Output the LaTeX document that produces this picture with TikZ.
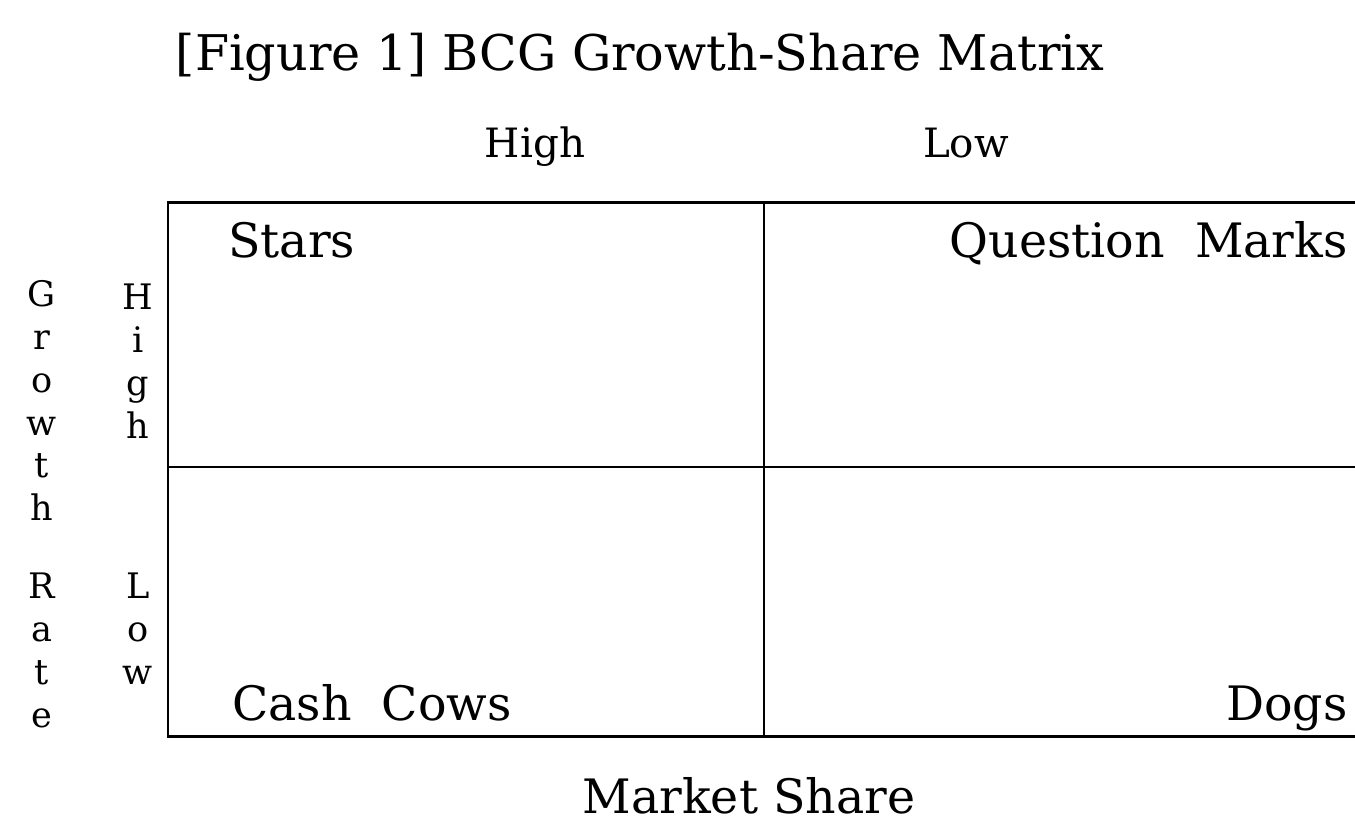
\documentclass[tikz,border=0pt]{standalone}
\usepackage{fontspec}
\setmainfont{DejaVu Serif}

\tikzset{
    label/.style={inner sep=0pt,font=\fontsize{27}{33}\selectfont},
    axislabel/.style={inner sep=0pt,font=\fontsize{23}{28}\selectfont},
    stack/.style={inner sep=0pt,align=center,anchor=north,font=\fontsize{20}{24.4}\selectfont}
}

\begin{document}
\begin{tikzpicture}[x=0.02cm,y=-0.02cm]
    \useasboundingbox (0,0) rectangle (1355,823);
    %% Title
    \node[label,anchor=base,font=\fontsize{28}{34}\selectfont] (title) at (640,70) {[Figure 1] BCG Growth-Share Matrix};
    %% Column heads
    \node[axislabel,anchor=base] (colhigh) at (535,157) {High};
    \node[axislabel,anchor=base] (collow) at (966,157) {Low};
    %% Frame and dividers (open on the right)
    \draw[line width=1.7pt] (1355,202) -- (168,202) -- (168,736) -- (1355,736);
    \draw[line width=1.5pt] (764,202) -- (764,736);
    \draw[line width=1.5pt] (168,467) -- (1355,467);
    %% Quadrants
    \node[label,anchor=base west] (stars) at (228,257) {Stars};
    \node[label,anchor=base east] (qmarks) at (1348,257) {Question\ \ Marks};
    \node[label,anchor=base west] (cows) at (232,720) {Cash\ \ Cows};
    \node[label,anchor=base east] (dogs) at (1348,720) {Dogs};
    %% Row heads
    \node[stack] (rowhigh) at (138,284) {H\\i\\g\\h};
    \node[stack] (rowlow) at (138,573) {L\\o\\w};
    %% Axis titles
    \node[stack] (growth) at (42,280) {G\\r\\o\\w\\t\\h\\[0.7cm]R\\a\\t\\e};
    \node[label,anchor=base] (share) at (749,813) {Market Share};
\end{tikzpicture}
\end{document}
